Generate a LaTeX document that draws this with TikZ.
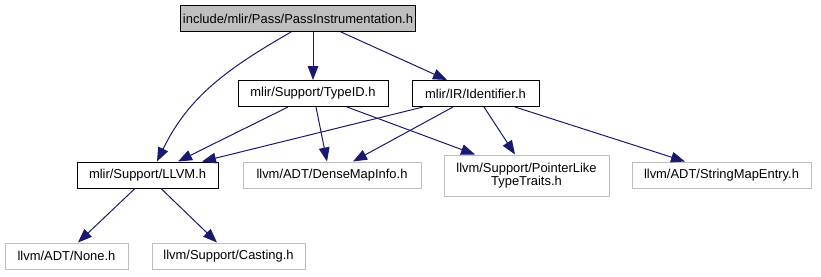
\documentclass[tikz,border=0pt]{standalone}
\usepackage{fontspec}
\setmainfont{Liberation Sans}
\usepackage{tikz}
\definecolor{edgeblue}{RGB}{25,25,112}
\definecolor{boxgray}{RGB}{191,191,191}
\usetikzlibrary{arrows.meta}

\begin{document}
\begin{tikzpicture}[x=0.75pt, y=-0.75pt,
		>={Triangle[length=10.5pt,width=8pt]},   % filled arrow heads
		font=\fontsize{9.7}{11.5}\selectfont,
		file/.style={draw=black, line width=0.75pt, fill=white, inner sep=2pt, minimum height=19.5pt},
		extfile/.style={draw=boxgray, line width=0.75pt, fill=white, inner sep=2pt, minimum height=19.5pt},
		edge/.style={->, draw=edgeblue, line width=0.75pt}]
	\useasboundingbox (0,0) rectangle (821,276);
	% header being documented
	\node[file, fill=boxgray, minimum width=172.5pt] (top) at (298,18.5) {include/mlir/Pass/PassInstrumentation.h};
	% second row
	\node[file, minimum width=112.5pt] (typeid) at (313,93.5) {mlir/Support/TypeID.h};
	\node[file, minimum width=95.25pt] (ident) at (475.5,93.5) {mlir/IR/Identifier.h};
	% third row
	\node[file, minimum width=105.75pt] (llvm) at (147.5,175) {mlir/Support/LLVM.h};
	\node[extfile, minimum width=133.5pt] (dense) at (332,175) {llvm/ADT/DenseMapInfo.h};
	\node[extfile, minimum width=123.75pt, minimum height=30.75pt, align=center, inner ysep=1pt] (ptr) at (526.5,175.5) {llvm/Support/PointerLike\\[-1.5pt]TypeTraits.h};
	\node[extfile, minimum width=134.25pt] (strmap) at (721.5,175) {llvm/ADT/StringMapEntry.h};
	% fourth row
	\node[extfile, minimum width=92.25pt] (none) at (66.5,256) {llvm/ADT/None.h};
	\node[extfile, minimum width=114.75pt] (cast) at (228.5,256) {llvm/Support/Casting.h};

	% includes of the top header
	\draw[edge] ([xshift=-5.25pt]top.south) to[out=-150, in=64] ([xshift=7.125pt]llvm.north);
	\draw[edge] ([xshift=11.25pt]top.south) -- (typeid.north);
	\draw[edge] ([xshift=32.25pt]top.south) -- ([xshift=-21.375pt]ident.north);
	% TypeID.h
	\draw[edge] ([xshift=-18.75pt]typeid.south) -- ([xshift=22.875pt]llvm.north);
	\draw[edge] ([xshift=2.25pt]typeid.south) -- ([xshift=-3.75pt]dense.north);
	\draw[edge] ([xshift=25.5pt]typeid.south) -- ([xshift=-38.625pt]ptr.north);
	% Identifier.h
	\draw[edge] ([xshift=-39.375pt]ident.south) -- ([xshift=40.875pt]llvm.north);
	\draw[edge] ([xshift=-16.875pt]ident.south) -- ([xshift=15.75pt]dense.north);
	\draw[edge] ([xshift=6.375pt]ident.south) -- ([xshift=-8.625pt]ptr.north);
	\draw[edge] ([xshift=29.625pt]ident.south) -- ([xshift=-27.375pt]strmap.north);
	% LLVM.h
	\draw[edge] ([xshift=-9.375pt]llvm.south) -- ([xshift=8.625pt]none.north);
	\draw[edge] ([xshift=10.125pt]llvm.south) -- ([xshift=-8.625pt]cast.north);
\end{tikzpicture}
\end{document}
